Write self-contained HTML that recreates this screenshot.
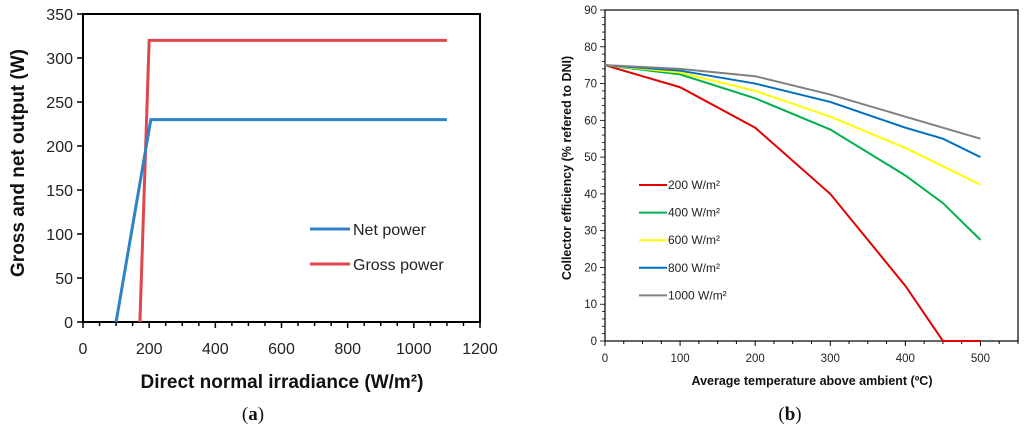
<!DOCTYPE html>
<html><head><meta charset="utf-8"><style>
body{margin:0;background:#fff;width:1024px;height:433px;overflow:hidden}
svg{font-family:"Liberation Sans",sans-serif}
</style></head><body>
<svg id="s" width="1024" height="433"></svg>
<script>
const aNetX=[100,205,1100], aNetY=[0,230,230];
const aGrossX=[172,200,1100], aGrossY=[0,320,320];
const aXTicks=[0,200,400,600,800,1000,1200];
const aYTicks=[0,50,100,150,200,250,300,350];
const bX=[0,100,200,300,400,450,500];
const b200=[75,69,58,40,15,0,0];
const b400=[75,72.5,66,57.5,45,37.5,27.5];
const b600=[75,73,68,61,52.5,47.5,42.5];
const b800=[75,73.5,70,65,58,55,50];
const b1000=[75,74,72,67,61,58,55];
const bXTicks=[0,100,200,300,400,500];
const bYTicks=[0,10,20,30,40,50,60,70,80,90];
const bNames=["200 W/m²","400 W/m²","600 W/m²","800 W/m²","1000 W/m²"];
const NS="http://www.w3.org/2000/svg", s=document.getElementById('s');
function el(t,a,txt){const e=document.createElementNS(NS,t);for(const k in a)e.setAttribute(k,a[k]);if(txt!==undefined)e.textContent=txt;s.appendChild(e);return e;}
// chart a
const ax=v=>83+v/1200*397, ay=v=>322-v/350*308;
let e=el('rect',{x:83,y:14,width:397,height:308,fill:'none',stroke:'#000','stroke-width':2});

for(let v=0;v<=1200;v+=50){e=el('line',{x1:ax(v),x2:ax(v),y1:322,y2:v%200==0?328:326,stroke:'#000','stroke-width':1.5});}
aXTicks.forEach(v=>{e=el('text',{x:ax(v),y:354,'font-size':16,'text-anchor':'middle',fill:'#222'},v);});
aYTicks.forEach(v=>{el('line',{x1:77,x2:83,y1:ay(v),y2:ay(v),stroke:'#000','stroke-width':1.5});e=el('text',{x:73,y:ay(v)+6,'font-size':16,'text-anchor':'end',fill:'#222'},v);});
function poly(xs,ys,fx,fy,c,w,n){const e=el('polyline',{points:xs.map((x,i)=>fx(x)+','+fy(ys[i])).join(' '),fill:'none',stroke:c,'stroke-width':w});}
poly(aGrossX,aGrossY,ax,ay,'#e0474c',3,'gross-power-line');
poly(aNetX,aNetY,ax,ay,'#2f82c6',3,'net-power-line');
el('line',{x1:310,x2:350,y1:229,y2:229,stroke:'#2f82c6','stroke-width':3});
e=el('text',{x:353,y:235,'font-size':16,fill:'#222'},'Net power');
el('line',{x1:310,x2:350,y1:264,y2:264,stroke:'#e0474c','stroke-width':3});
e=el('text',{x:353,y:270,'font-size':16,fill:'#222'},'Gross power');
e=el('text',{x:282,y:388,'font-size':19,'font-weight':'bold','text-anchor':'middle',fill:'#111'},'Direct normal irradiance (W/m²)');
e=el('text',{x:0,y:0,'font-size':19,'font-weight':'bold','text-anchor':'middle',fill:'#111',transform:'translate(24,163) rotate(-90)'},'Gross and net output (W)');
e=el('text',{x:253,y:420,'font-size':19,'text-anchor':'middle','font-family':'Liberation Serif',fill:'#111'});e.innerHTML='(<tspan font-weight="bold">a</tspan>)';
// chart b
const bx=v=>605+v/550*413, by=v=>341-v/90*331;
e=el('rect',{x:605,y:10,width:413,height:331,fill:'none',stroke:'#000','stroke-width':1.2});
for(let v=0;v<=550;v+=25)el('line',{x1:bx(v),x2:bx(v),y1:341,y2:v%100==0?346:344,stroke:'#000'});
for(let v=0;v<=90;v+=2)el('line',{x1:v%10==0?600:602,x2:605,y1:by(v),y2:by(v),stroke:'#000','stroke-width':0.8});
bXTicks.forEach(v=>{e=el('text',{x:bx(v),y:362,'font-size':11.5,'text-anchor':'middle',fill:'#222'},v);});
bYTicks.forEach(v=>{e=el('text',{x:597,y:by(v)+4,'font-size':11.5,'text-anchor':'end',fill:'#222'},v);});
const series=[b200,b400,b600,b800,b1000], cols=['#e00000','#00b050','#ffff00','#0070c0','#808080'];
series.forEach((d,i)=>poly(bX,d,bx,by,cols[i],2,'series-'+bNames[i].split(' ')[0]));
bNames.forEach((n,i)=>{const y=185+i*27.6;el('line',{x1:639,x2:667,y1:y,y2:y,stroke:cols[i],'stroke-width':2});e=el('text',{x:668,y:y+4,'font-size':12,fill:'#222'},n);});
e=el('text',{x:812,y:385,'font-size':12.5,'font-weight':'bold','text-anchor':'middle',fill:'#111'},'Average temperature above ambient (ºC)');
e=el('text',{x:0,y:0,'font-size':12.5,'font-weight':'bold','text-anchor':'middle',fill:'#111',transform:'translate(571,168) rotate(-90)'},'Collector efficiency (% refered to DNI)');
e=el('text',{x:790,y:420,'font-size':19,'text-anchor':'middle','font-family':'Liberation Serif',fill:'#111'});e.innerHTML='(<tspan font-weight="bold">b</tspan>)';
</script>
</body></html>
